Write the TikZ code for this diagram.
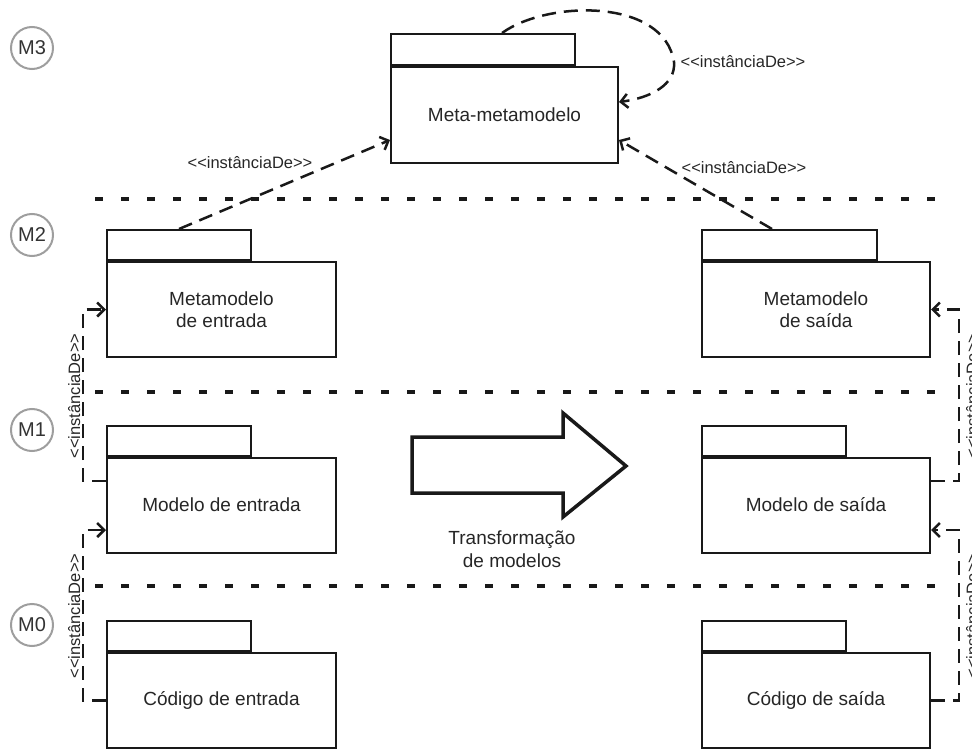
\documentclass[tikz,border=0pt]{standalone}
\usepackage{fontspec}
\setmainfont{Liberation Sans}
\usetikzlibrary{arrows.meta}
\begin{document}
\begin{tikzpicture}[x=1pt,y=-1pt,
  pkgbody/.style={draw=black!90, line width=2pt, fill=white, minimum height=95pt,
    inner sep=0pt, align=center, font=\fontsize{19}{21.5}\selectfont, text=black!85},
  pkgtab/.style={draw=black!90, line width=2pt, fill=white, minimum height=30pt,
    inner sep=0pt, anchor=south west},
  inst/.style={draw=black!90, line width=2.5pt, dash pattern=on 14pt off 8pt,
    -{Straight Barb[length=7pt,width=14pt]}},
  instlabel/.style={font=\fontsize{16.5}{18}\selectfont, text=black!85, inner sep=0pt},
  level/.style={circle, draw=black!38, line width=2pt, minimum size=42pt, inner sep=0pt,
    font=\fontsize{20}{22}\selectfont, text=black!80},
  separator/.style={draw=black!90, line width=4.5pt, dash pattern=on 8pt off 18pt},
  bigarrow/.style={draw=black!90, line width=3.5pt, fill=white, line join=miter}
]
\useasboundingbox (0,0) rectangle (972,749);

% level markers
\node[level] (m3) at (32,48) {M3};
\node[level] (m2) at (32,235) {M2};
\node[level] (m1) at (32,430) {M1};
\node[level] (m0) at (32,625) {M0};

% level separators
\draw[separator] (95,199) -- (936,199);
\draw[separator] (95,392) -- (936,392);
\draw[separator] (95,586) -- (936,586);

% packages
\node[pkgbody, minimum width=227pt, minimum height=96pt] (mm) at (504.5,115) {Meta-metamodelo};
\node[pkgtab, minimum width=184pt, minimum height=31pt] (mmtab) at (mm.north west) {};

\node[pkgbody, minimum width=229pt] (mee) at (221.5,309.5) {Metamodelo\\de entrada};
\node[pkgtab, minimum width=144pt] (meetab) at (mee.north west) {};
\node[pkgbody, minimum width=229pt] (mie) at (221.5,505) {Modelo de entrada};
\node[pkgtab, minimum width=144pt] (mietab) at (mie.north west) {};
\node[pkgbody, minimum width=229pt] (cie) at (221.5,700.5) {Código de entrada};
\node[pkgtab, minimum width=144pt] (cietab) at (cie.north west) {};

\node[pkgbody, minimum width=228pt] (mes) at (816,309.5) {Metamodelo\\de saída};
\node[pkgtab, minimum width=175pt] (mestab) at (mes.north west) {};
\node[pkgbody, minimum width=228pt] (mis) at (816,505) {Modelo de saída};
\node[pkgtab, minimum width=144pt] (mistab) at (mis.north west) {};
\node[pkgbody, minimum width=228pt] (cis) at (816,700.5) {Código de saída};
\node[pkgtab, minimum width=144pt] (cistab) at (cis.north west) {};

% instanceOf relations towards the meta-metamodel
\draw[inst] ([xshift=73pt]meetab.north west) -- ([yshift=-25pt]mm.west);
\node[instlabel] (lblmee) at (250,163) {{<}{<}instânciaDe{>}{>}};
\draw[inst] ([xshift=71pt]mestab.north west) -- ([yshift=-25pt]mm.east);
\node[instlabel] (lblmes) at (744,168) {{<}{<}instânciaDe{>}{>}};

\coordinate (loopR) at (674,62);
\draw[inst] ([xshift=112pt]mmtab.north west) .. controls (548,0) and (664,-2) .. (loopR)
  .. controls (676,85) and (650,98) .. ([yshift=13pt]mm.east);
\node[instlabel] (lblself) at (743,62) {{<}{<}instânciaDe{>}{>}};

% instanceOf relations on the input side
\draw[inst] ([yshift=24pt]mie.west) -- ++(-23,0) |- (mee.west);
\node[instlabel, rotate=90, anchor=base] (lblmie) at (80,396) {{<}{<}instânciaDe{>}{>}};
\draw[inst] (cie.west) -- ++(-23,0) |- ([yshift=-25pt]mie.west);
\node[instlabel, rotate=90, anchor=base] (lblcie) at (80,616) {{<}{<}instânciaDe{>}{>}};

% instanceOf relations on the output side
\draw[inst] ([yshift=24pt]mis.east) -- ++(28,0) |- (mes.east);
\node[instlabel, rotate=90, anchor=base] (lblmis) at (978,396) {{<}{<}instânciaDe{>}{>}};
\draw[inst] (cis.east) -- ++(28,0) |- ([yshift=-25pt]mis.east);
\node[instlabel, rotate=90, anchor=base] (lblcis) at (978,616) {{<}{<}instânciaDe{>}{>}};

% model transformation
\draw[bigarrow] (412,437) -- (563,437) -- (563,413) -- (626,466) -- (563,517)
  -- (563,493) -- (412,493) -- cycle;
\node[align=center, font=\fontsize{19}{23}\selectfont, text=black!85] (trans) at (512,549)
  {Transformação\\de modelos};
\end{tikzpicture}
\end{document}
